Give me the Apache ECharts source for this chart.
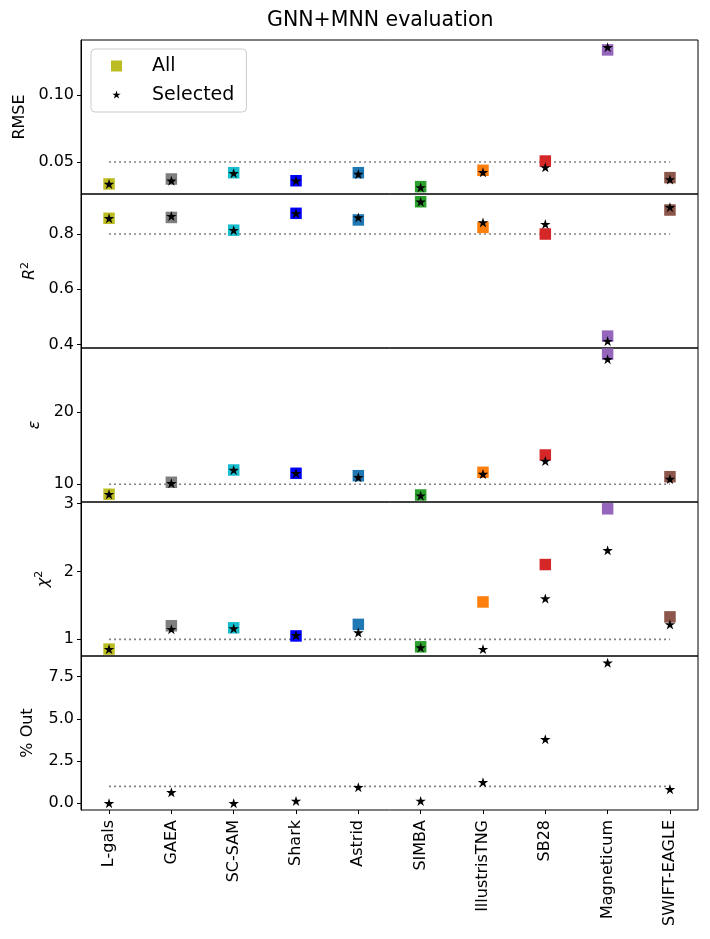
<!DOCTYPE html>
<html>
<head>
<meta charset="utf-8">
<script src="https://cdn.jsdelivr.net/npm/echarts@6/dist/echarts.min.js"></script>
<style>
  html, body { margin: 0; padding: 0; background: #fff; }
  #main { width: 710px; height: 939px; }
</style>
</head>
<body>
<div id="main"></div>
<script>
var myChart = echarts.init(document.getElementById('main'));

// simulations on the x axis
const categories = ['L-gals', 'GAEA', 'SC-SAM', 'Shark', 'Astrid', 'SIMBA', 'IllustrisTNG', 'SB28', 'Magneticum', 'SWIFT-EAGLE'];
const colors = ['#bcbd22', '#7f7f7f', '#17becf', '#0000ff', '#1f77b4', '#2ca02c', '#ff7f0e', '#d62728', '#9467bd', '#8c564b'];

// metric values, "All" galaxies vs "Selected"
const rmseAll = [0.0336, 0.0373, 0.0420, 0.0360, 0.0420, 0.0316, 0.0438, 0.0507, 0.1336, 0.0383];
const rmseSel = [0.0336, 0.0360, 0.0416, 0.0360, 0.0410, 0.0310, 0.0423, 0.0460, 0.1356, 0.0370];
const r2All = [0.857, 0.860, 0.814, 0.875, 0.851, 0.917, 0.824, 0.800, 0.430, 0.887];
const r2Sel = [0.857, 0.865, 0.814, 0.875, 0.860, 0.917, 0.842, 0.836, 0.412, 0.897];
const epsAll = [8.62, 10.28, 11.98, 11.52, 11.19, 8.52, 11.66, 14.05, 28.0, 11.05];
const epsSel = [8.62, 10.14, 11.98, 11.52, 10.97, 8.43, 11.42, 13.22, 27.3, 10.73];
const chi2All = [0.857, 1.20, 1.17, 1.05, 1.22, 0.89, 1.55, 2.10, 2.92, 1.33];
const chi2Sel = [0.857, 1.15, 1.16, 1.06, 1.10, 0.88, 0.857, 1.60, 2.31, 1.22];
const outSel = [0.0, 0.65, 0.0, 0.14, 0.95, 0.14, 1.24, 3.79, 8.32, 0.83];

// dotted reference level of each panel
const thresholds = [0.05, 0.8, 10, 1, 1];

// y tick labels of each panel
const rmseTicks = ['0.05', '0.10'];
const r2Ticks = ['0.4', '0.6', '0.8'];
const epsTicks = ['10', '20'];
const chi2Ticks = ['1', '2', '3'];
const outTicks = ['0.0', '2.5', '5.0', '7.5'];

const STAR = 'path://M0,-100 L22,-31 L95,-31 L36,12 L59,81 L0,38 L-59,81 L-36,12 L-95,-31 L-22,-31 Z';
const STAR_LEGEND = 'path://M-125,-120 M125,120 M0,-100 L22,-31 L95,-31 L36,12 L59,81 L0,38 L-59,81 L-36,12 L-95,-31 L-22,-31 Z';
const FONT = 'DejaVu Sans';

const panels = [
    {name: 'RMSE', all: rmseAll, sel: rmseSel, ticks: rmseTicks, min: 0.0261, max: 0.141, gap: 53},
    {name: '{i|R}{s|2}', all: r2All, sel: r2Sel, ticks: r2Ticks, min: 0.387, max: 0.945, gap: 42},
    {name: '{i|ε}', all: epsAll, sel: epsSel, ticks: epsTicks, min: 7.55, max: 28.85, gap: 38},
    {name: '{i|χ}{s|2}', all: chi2All, sel: chi2Sel, ticks: chi2Ticks, min: 0.755, max: 3.02, gap: 28},
    {name: '% Out', all: null, sel: outSel, ticks: outTicks, min: -0.40, max: 8.72, gap: 45}
];

const panelTop = 40, panelH = 154, last = panels.length - 1;
const xIdx = categories.map((c, i) => i);

let grid = [], xAxis = [], yAxis = [], series = [];

panels.forEach(function (p, k) {
    grid.push({
        left: 81, width: 617, top: panelTop + k * panelH, height: panelH,
        show: true, borderColor: '#000', borderWidth: 1, backgroundColor: 'transparent'
    });
    xAxis.push({
        type: 'value', gridIndex: k, min: -0.45, max: 9.45,
        splitLine: {show: false},
        axisLine: {show: false, onZero: false},
        axisTick: {show: k === last, length: 4, lineStyle: {color: '#000'}, customValues: xIdx},
        axisLabel: {
            show: k === last, customValues: xIdx, rotate: 90, margin: 10,
            fontFamily: FONT, fontSize: 16, color: '#000',
            formatter: function (v) { return categories[Math.round(v)]; }
        }
    });
    const tickVals = p.ticks.map(Number);
    yAxis.push({
        type: 'value', gridIndex: k, min: p.min, max: p.max,
        name: p.name, nameLocation: 'middle', nameRotate: 90, nameGap: p.gap,
        nameTextStyle: {
            fontFamily: FONT, fontSize: 16, color: '#000',
            rich: {
                i: {fontFamily: FONT, fontSize: 16, fontStyle: 'italic', color: '#000'},
                s: {fontFamily: FONT, fontSize: 11, color: '#000', verticalAlign: 'top', padding: [0, 0, 8, 0]}
            }
        },
        splitLine: {show: false},
        axisLine: {show: true, onZero: false, lineStyle: {color: '#000'}},
        axisTick: {show: true, length: 4, lineStyle: {color: '#000'}, customValues: tickVals},
        axisLabel: {
            customValues: tickVals, margin: 7, fontFamily: FONT, fontSize: 16, color: '#000',
            formatter: function (v) {
                const j = tickVals.findIndex(t => Math.abs(t - v) < 1e-9);
                return j >= 0 ? p.ticks[j] : '';
            }
        }
    });
    series.push({
        type: 'line', xAxisIndex: k, yAxisIndex: k, z: 1,
        data: [[0, thresholds[k]], [categories.length - 1, thresholds[k]]],
        symbol: 'none', silent: true,
        lineStyle: {color: '#808080', width: 1.6, type: [2, 3]}
    });
    if (p.all) {
        series.push({
            name: 'All', type: 'scatter', xAxisIndex: k, yAxisIndex: k, z: 2,
            symbol: 'rect', symbolSize: 11.5,
            itemStyle: {color: colors[0], opacity: 1},
            data: p.all.map((v, i) => ({value: [i, v], itemStyle: {color: colors[i], opacity: 1}}))
        });
    }
    series.push({
        name: 'Selected', type: 'scatter', xAxisIndex: k, yAxisIndex: k, z: 3,
        symbol: STAR, symbolSize: [10.5, 10],
        itemStyle: {color: '#000', opacity: 1},
        data: p.sel.map((v, i) => [i, v])
    });
});

let option = {
    animation: false,
    backgroundColor: '#fff',
    title: {
        text: 'GNN+MNN evaluation', left: 262, top: 5,
        textStyle: {fontFamily: FONT, fontSize: 20.5, fontWeight: 'normal', color: '#000'}
    },
    legend: {
        data: [{name: 'All', icon: 'rect'}, {name: 'Selected', icon: STAR_LEGEND}],
        orient: 'vertical', left: 91, top: 49,
        padding: [7, 12, 7, 20],
        itemWidth: 11, itemHeight: 11, itemGap: 9,
        borderColor: '#cccccc', borderWidth: 1, borderRadius: 4,
        backgroundColor: 'rgba(255,255,255,0.8)',
        textStyle: {fontFamily: FONT, fontSize: 19, color: '#000', lineHeight: 20, padding: [0, 0, 0, 25]}
    },
    grid: grid,
    xAxis: xAxis,
    yAxis: yAxis,
    series: series
};

myChart.setOption(option);
</script>
</body>
</html>
